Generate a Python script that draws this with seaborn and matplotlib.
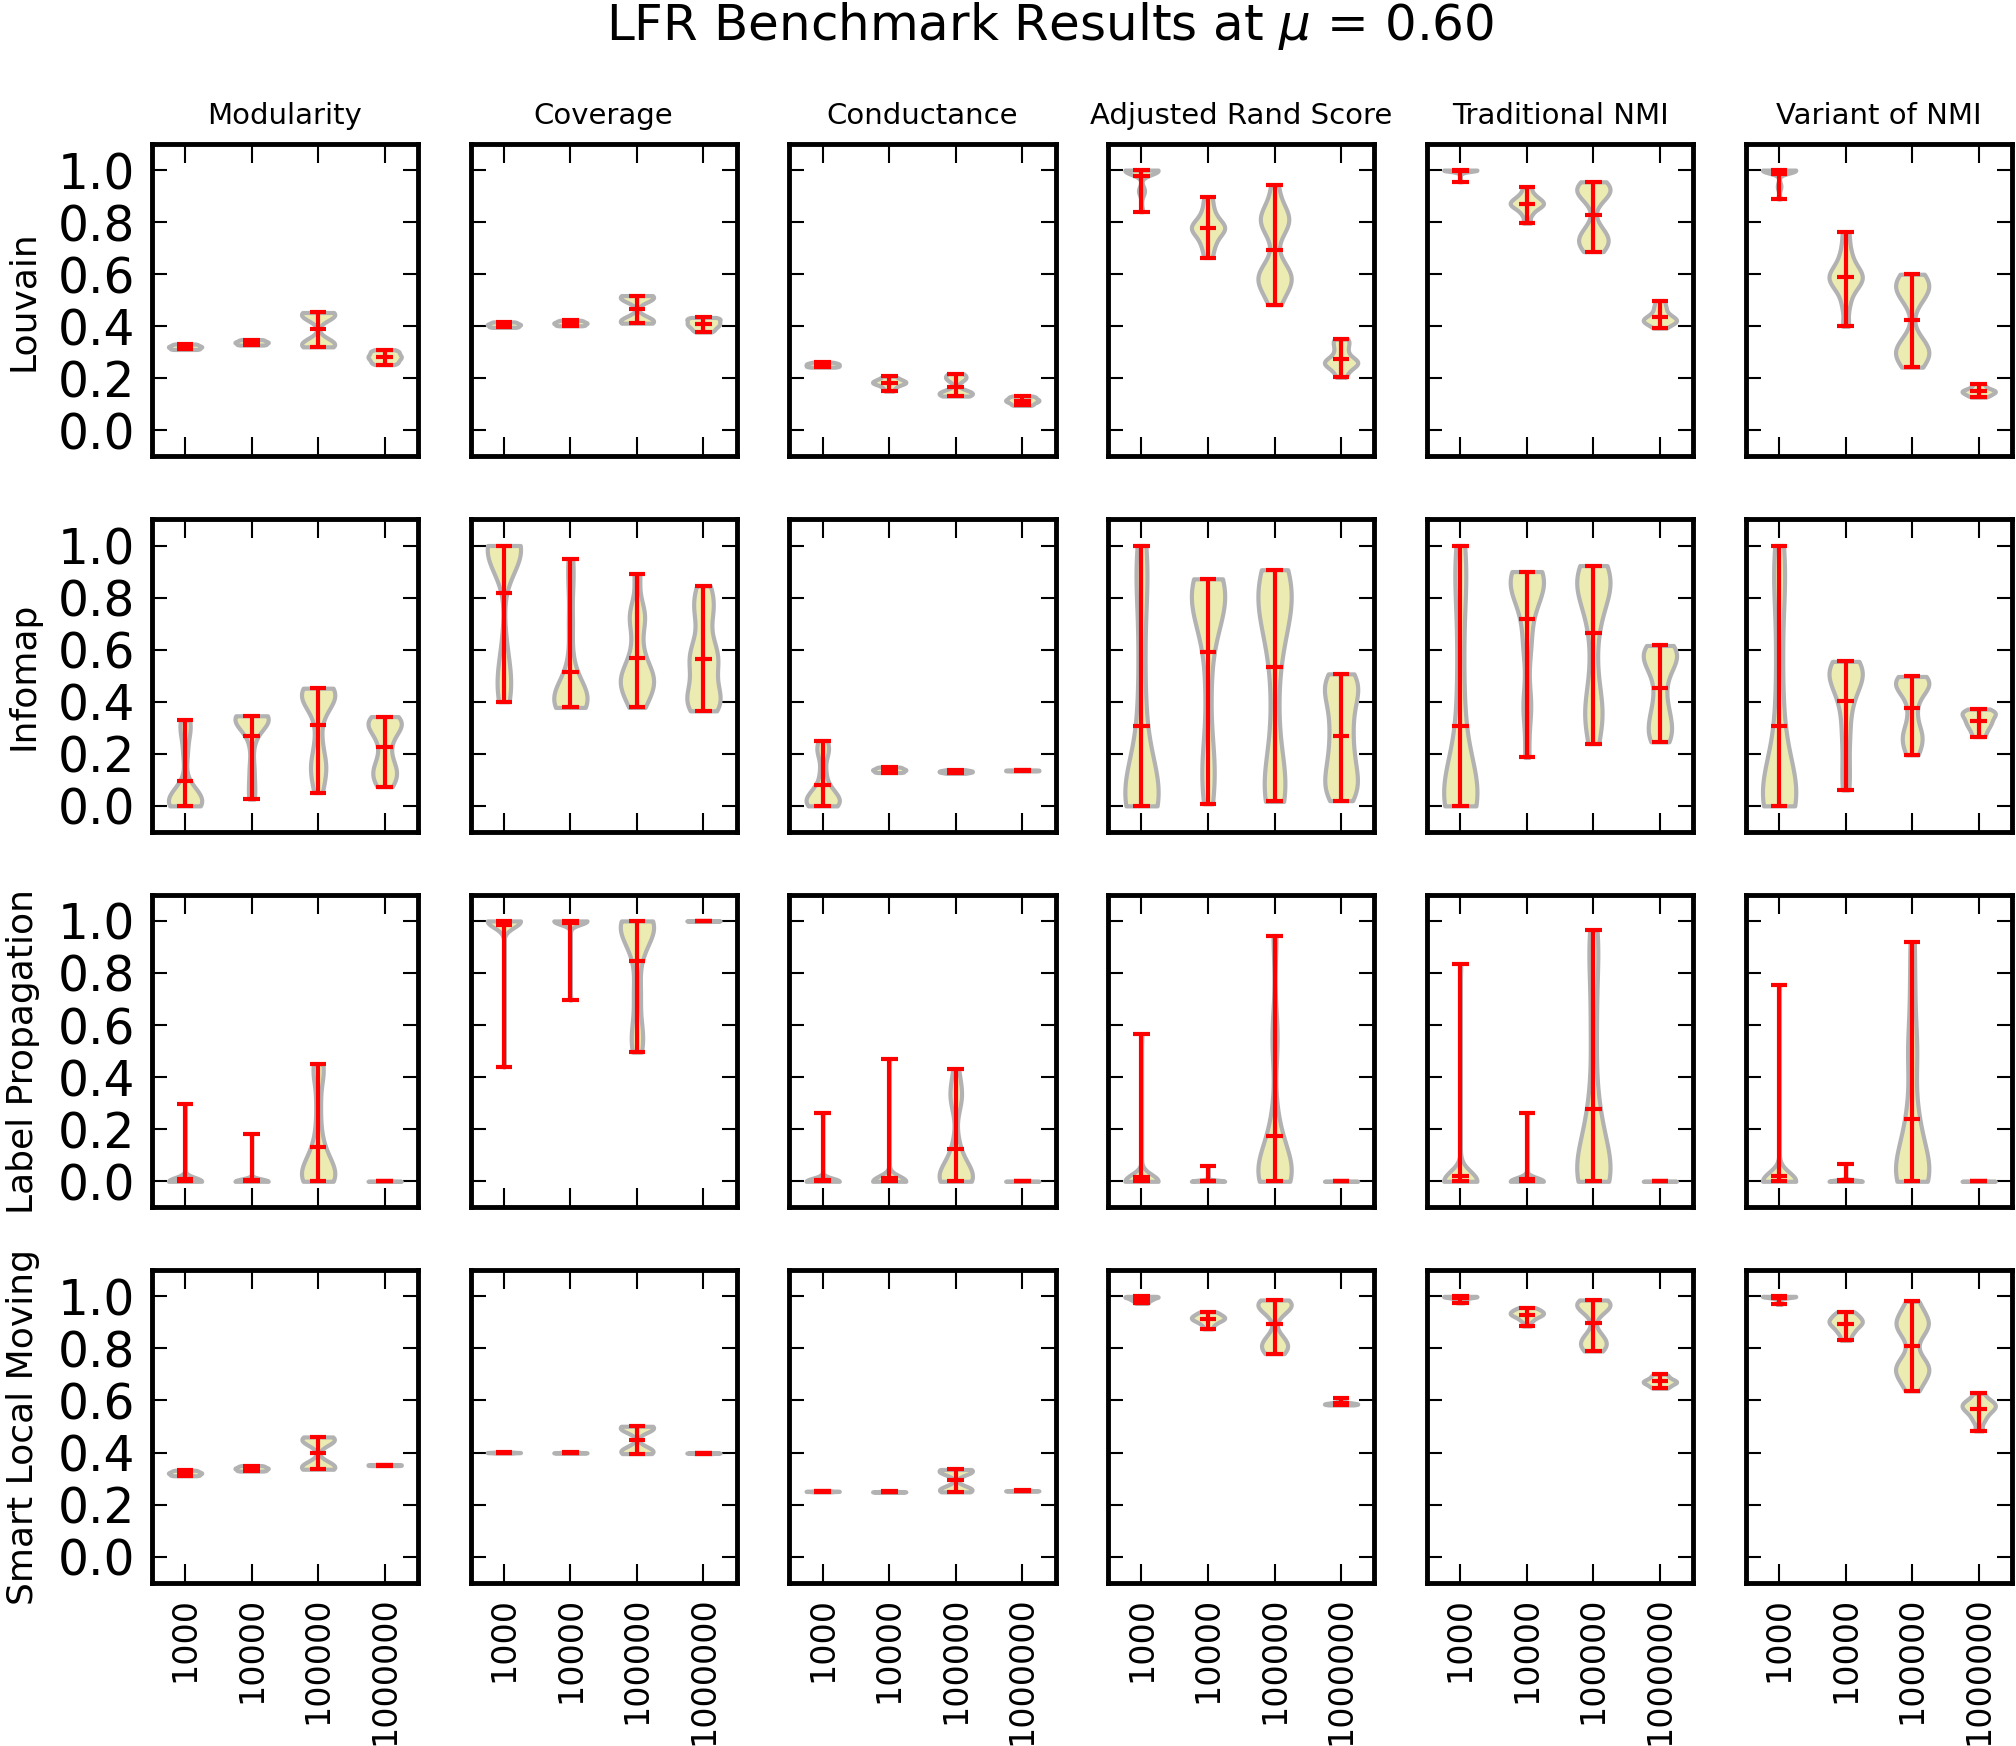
import numpy as np
import pandas as pd
import matplotlib
matplotlib.use("Agg")
import matplotlib.pyplot as plt
import seaborn as sns

# Eixos e rótulos
sizes = ["1000", "10000", "100000", "1000000"]
metrics = ["Modularity", "Coverage", "Conductance", "Adjusted Rand Score",
           "Traditional NMI", "Variant of NMI"]
algorithms = ["Louvain", "Infomap", "Label Propagation", "Smart Local Moving"]
y_ticks = [0.0, 0.2, 0.4, 0.6, 0.8, 1.0]

# Amostras (uma lista por tamanho de rede)
louvain_modularity = [
    [0.311, 0.314, 0.318, 0.321, 0.324, 0.328, 0.332],
    [0.328, 0.331, 0.335, 0.338, 0.341, 0.345, 0.349],
    [0.321, 0.323, 0.326, 0.329, 0.333, 0.338, 0.346, 0.43, 0.438, 0.443, 0.447, 0.45, 0.452, 0.453],
    [0.253, 0.258, 0.264, 0.27, 0.275, 0.28, 0.284, 0.289, 0.294, 0.3, 0.305, 0.31],
]
louvain_coverage = [
    [0.396, 0.399, 0.403, 0.406, 0.409, 0.413, 0.417],
    [0.402, 0.405, 0.409, 0.412, 0.415, 0.419, 0.423],
    [0.412, 0.414, 0.417, 0.42, 0.424, 0.43, 0.5, 0.507, 0.511, 0.514, 0.516, 0.518],
    [0.378, 0.385, 0.392, 0.398, 0.403, 0.408, 0.412, 0.417, 0.422, 0.427, 0.431, 0.434],
]
louvain_conductance = [
    [0.243, 0.246, 0.249, 0.252, 0.255, 0.258, 0.262],
    [0.151, 0.163, 0.172, 0.177, 0.181, 0.184, 0.187, 0.19, 0.195, 0.2, 0.208],
    [0.132, 0.135, 0.138, 0.141, 0.144, 0.148, 0.153, 0.19, 0.198, 0.205, 0.212, 0.218],
    [0.096, 0.1, 0.105, 0.109, 0.112, 0.115, 0.118, 0.121, 0.125, 0.129, 0.132],
]
louvain_ars = [
    [0.84, 0.91, 0.92, 0.93, 0.985, 0.99, 0.995] + [1.0] * 12,
    [0.664, 0.7, 0.725, 0.745, 0.76, 0.77, 0.778, 0.786, 0.795, 0.81, 0.83, 0.86, 0.898],
    [0.483, 0.53, 0.56, 0.575, 0.585, 0.595, 0.61, 0.64, 0.76, 0.79, 0.805, 0.815, 0.83, 0.86, 0.943],
    [0.204, 0.228, 0.243, 0.252, 0.258, 0.264, 0.27, 0.28, 0.3, 0.32, 0.34, 0.351],
]
louvain_nmi = [
    [0.955, 0.99, 0.995] + [1.0] * 10,
    [0.796, 0.83, 0.85, 0.86, 0.866, 0.872, 0.878, 0.885, 0.895, 0.91, 0.936],
    [0.687, 0.705, 0.72, 0.73, 0.74, 0.755, 0.78, 0.885, 0.91, 0.92, 0.925, 0.93, 0.94, 0.955],
    [0.393, 0.405, 0.413, 0.418, 0.422, 0.427, 0.433, 0.44, 0.45, 0.465, 0.48, 0.499],
]
louvain_vnmi = [
    [0.889, 0.93, 0.945, 0.99, 0.995] + [1.0] * 13,
    [0.4, 0.48, 0.53, 0.555, 0.57, 0.58, 0.59, 0.6, 0.612, 0.63, 0.66, 0.7, 0.761],
    [0.243, 0.27, 0.29, 0.3, 0.31, 0.32, 0.34, 0.5, 0.53, 0.545, 0.555, 0.565, 0.58, 0.6],
    [0.128, 0.134, 0.139, 0.143, 0.147, 0.15, 0.153, 0.157, 0.162, 0.17, 0.18],
]

infomap_modularity = [
    [0.0, 0.0, 0.004, 0.008, 0.012, 0.018, 0.025, 0.035, 0.05, 0.07, 0.2, 0.28, 0.31, 0.33],
    [0.026, 0.08, 0.15, 0.25, 0.3, 0.32, 0.33, 0.335, 0.338, 0.34, 0.342, 0.344, 0.346],
    [0.051, 0.1, 0.14, 0.16, 0.19, 0.26, 0.35, 0.39, 0.41, 0.42, 0.43, 0.437, 0.443, 0.448, 0.452],
    [0.074, 0.1, 0.12, 0.14, 0.16, 0.2, 0.25, 0.28, 0.3, 0.315, 0.325, 0.335, 0.343],
]
infomap_coverage = [
    [0.4, 0.45, 0.48, 0.5, 0.6, 0.93, 0.96, 0.975, 0.985, 0.99, 0.995, 1.0, 1.0, 1.0, 1.0],
    [0.378, 0.382, 0.388, 0.395, 0.403, 0.412, 0.42, 0.43, 0.445, 0.47, 0.55, 0.7, 0.85, 0.949],
    [0.378, 0.41, 0.44, 0.46, 0.475, 0.49, 0.505, 0.525, 0.56, 0.62, 0.7, 0.73, 0.76, 0.891],
    [0.365, 0.38, 0.4, 0.41, 0.44, 0.48, 0.52, 0.56, 0.57, 0.6, 0.64, 0.72, 0.76, 0.8, 0.845],
]
infomap_conductance = [
    [0.0, 0.0, 0.005, 0.01, 0.02, 0.03, 0.04, 0.055, 0.075, 0.13, 0.2, 0.22, 0.251],
    [0.128, 0.131, 0.135, 0.138, 0.141, 0.145, 0.149],
    [0.125, 0.128, 0.13, 0.132, 0.134, 0.136, 0.139],
    [0.134, 0.135, 0.136, 0.137, 0.138],
]
infomap_ars = [
    [0.0, 0.0, 0.01, 0.02, 0.04, 0.06, 0.08, 0.15, 0.25, 0.4, 0.6, 0.8, 0.9, 1.0],
    [0.008, 0.1, 0.15, 0.25, 0.45, 0.62, 0.7, 0.74, 0.77, 0.8, 0.82, 0.84, 0.855, 0.865, 0.872],
    [0.017, 0.06, 0.09, 0.12, 0.3, 0.5, 0.65, 0.7, 0.75, 0.79, 0.83, 0.86, 0.885, 0.907],
    [0.02, 0.05, 0.08, 0.11, 0.15, 0.19, 0.24, 0.29, 0.34, 0.39, 0.43, 0.46, 0.485, 0.507],
]
infomap_nmi = [
    [0.0, 0.0, 0.01, 0.02, 0.04, 0.06, 0.08, 0.15, 0.25, 0.4, 0.6, 0.8, 0.9, 1.0],
    [0.186, 0.38, 0.39, 0.6, 0.65, 0.76, 0.8, 0.83, 0.85, 0.865, 0.875, 0.88, 0.885, 0.893, 0.9],
    [0.239, 0.33, 0.36, 0.39, 0.5, 0.65, 0.75, 0.8, 0.83, 0.855, 0.875, 0.89, 0.905, 0.923],
    [0.246, 0.26, 0.29, 0.32, 0.35, 0.39, 0.45, 0.51, 0.54, 0.56, 0.58, 0.595, 0.605, 0.616],
]
infomap_vnmi = [
    [0.0, 0.0, 0.01, 0.02, 0.04, 0.06, 0.08, 0.15, 0.25, 0.4, 0.6, 0.8, 0.9, 1.0],
    [0.061, 0.15, 0.25, 0.33, 0.4, 0.44, 0.47, 0.49, 0.505, 0.52, 0.535, 0.545, 0.555],
    [0.196, 0.23, 0.255, 0.275, 0.3, 0.36, 0.42, 0.45, 0.465, 0.475, 0.48, 0.485, 0.497],
    [0.266, 0.285, 0.3, 0.312, 0.322, 0.332, 0.342, 0.35, 0.357, 0.364, 0.372],
]

labelprop_modularity = [
    [0.0] * 36 + [0.01, 0.298],
    [0.0] * 36 + [0.183],
    [0.0, 0.0, 0.0, 0.005, 0.01, 0.02, 0.03, 0.045, 0.06, 0.08, 0.1, 0.13, 0.2, 0.3, 0.41, 0.43, 0.451],
    [0.0] * 8 + [0.001],
]
labelprop_coverage = [
    [1.0] * 40 + [0.98, 0.439],
    [1.0] * 40 + [0.696],
    [1.0, 1.0, 1.0, 1.0, 0.995, 0.99, 0.98, 0.965, 0.95, 0.93, 0.9, 0.86, 0.75, 0.7, 0.6, 0.56, 0.53, 0.496],
    [1.0] * 8 + [0.999],
]
labelprop_conductance = [
    [0.0] * 40 + [0.261],
    [0.0] * 40 + [0.005, 0.01, 0.471],
    [0.0, 0.0, 0.0, 0.0, 0.005, 0.01, 0.015, 0.025, 0.035, 0.05, 0.07, 0.1, 0.15, 0.29, 0.32, 0.34, 0.37, 0.43],
    [0.0] * 8 + [0.001],
]
labelprop_ars = [
    [0.0] * 36 + [0.005, 0.01, 0.02, 0.566],
    [0.0] * 20 + [0.002, 0.059],
    [0.0, 0.0, 0.0, 0.005, 0.01, 0.02, 0.03, 0.045, 0.06, 0.08, 0.1, 0.13, 0.17, 0.25, 0.5, 0.6, 0.944],
    [0.0] * 8 + [0.001],
]
labelprop_nmi = [
    [0.0] * 36 + [0.005, 0.01, 0.02, 0.03, 0.835],
    [0.0] * 30 + [0.002, 0.263],
    [0.0, 0.0, 0.0, 0.005, 0.015, 0.03, 0.05, 0.07, 0.1, 0.14, 0.19, 0.25, 0.32, 0.5, 0.65, 0.8, 0.9, 0.964],
    [0.0] * 8 + [0.001],
]
labelprop_vnmi = [
    [0.0] * 36 + [0.005, 0.01, 0.02, 0.03, 0.752],
    [0.0] * 20 + [0.002, 0.068],
    [0.0, 0.0, 0.0, 0.005, 0.015, 0.03, 0.05, 0.07, 0.1, 0.14, 0.18, 0.23, 0.3, 0.45, 0.5, 0.6, 0.75, 0.918],
    [0.0] * 8 + [0.001],
]

slm_modularity = [
    [0.311, 0.314, 0.318, 0.321, 0.324, 0.328, 0.332],
    [0.329, 0.332, 0.336, 0.339, 0.342, 0.346, 0.35],
    [0.336, 0.338, 0.341, 0.345, 0.35, 0.357, 0.435, 0.443, 0.449, 0.454, 0.457, 0.46],
    [0.35, 0.351, 0.352, 0.353, 0.354],
]
slm_coverage = [
    [0.398, 0.399, 0.4, 0.4, 0.401, 0.402],
    [0.397, 0.398, 0.399, 0.399, 0.4, 0.401],
    [0.396, 0.398, 0.401, 0.405, 0.41, 0.417, 0.485, 0.491, 0.495, 0.498, 0.5, 0.501],
    [0.396, 0.397, 0.398, 0.398, 0.399, 0.4],
]
slm_conductance = [
    [0.249, 0.25, 0.251, 0.251, 0.252, 0.253],
    [0.247, 0.248, 0.249, 0.249, 0.25, 0.251],
    [0.249, 0.251, 0.254, 0.257, 0.261, 0.267, 0.32, 0.325, 0.329, 0.332, 0.334, 0.335],
    [0.251, 0.252, 0.253, 0.253, 0.254, 0.255],
]
slm_ars = [
    [0.973, 0.978, 0.983, 0.987, 0.99, 0.993, 0.996, 0.998, 1.0, 1.0],
    [0.875, 0.89, 0.9, 0.906, 0.911, 0.915, 0.919, 0.923, 0.928, 0.934, 0.941],
    [0.78, 0.79, 0.8, 0.81, 0.82, 0.83, 0.85, 0.93, 0.95, 0.96, 0.97, 0.97, 0.975, 0.98, 0.986],
    [0.583, 0.584, 0.585, 0.586, 0.587, 0.588, 0.59, 0.593, 0.6, 0.611],
]
slm_nmi = [
    [0.975, 0.985, 0.99, 0.994, 0.997, 0.999, 1.0, 1.0, 1.0],
    [0.886, 0.905, 0.916, 0.923, 0.928, 0.932, 0.936, 0.94, 0.945, 0.95, 0.957],
    [0.79, 0.8, 0.81, 0.82, 0.83, 0.84, 0.86, 0.93, 0.95, 0.96, 0.97, 0.97, 0.975, 0.98, 0.986],
    [0.647, 0.654, 0.66, 0.665, 0.669, 0.672, 0.676, 0.68, 0.686, 0.693, 0.701],
]
slm_vnmi = [
    [0.969, 0.99, 0.995, 0.998, 1.0, 1.0, 1.0, 1.0, 1.0, 1.0],
    [0.831, 0.855, 0.87, 0.882, 0.891, 0.898, 0.905, 0.912, 0.92, 0.93, 0.941],
    [0.637, 0.67, 0.695, 0.71, 0.72, 0.73, 0.745, 0.77, 0.84, 0.87, 0.885, 0.895, 0.905, 0.92, 0.95, 0.981],
    [0.483, 0.52, 0.54, 0.555, 0.565, 0.573, 0.58, 0.587, 0.595, 0.605, 0.628],
]

results = {
    "Louvain": [louvain_modularity, louvain_coverage, louvain_conductance,
                louvain_ars, louvain_nmi, louvain_vnmi],
    "Infomap": [infomap_modularity, infomap_coverage, infomap_conductance,
                infomap_ars, infomap_nmi, infomap_vnmi],
    "Label Propagation": [labelprop_modularity, labelprop_coverage, labelprop_conductance,
                          labelprop_ars, labelprop_nmi, labelprop_vnmi],
    "Smart Local Moving": [slm_modularity, slm_coverage, slm_conductance,
                           slm_ars, slm_nmi, slm_vnmi],
}

fill_color = "#ececb2"
edge_color = "#b2b2b2"
bar_color = "#ff0000"

sns.set_style("ticks")
plt.rcParams["font.family"] = ["DejaVu Sans"]
plt.rcParams.update({"text.color": "black", "axes.labelcolor": "black",
                     "xtick.color": "black", "ytick.color": "black"})

fig, axes = plt.subplots(4, 6, figsize=(20.16, 17.46), dpi=100)
fig.subplots_adjust(left=0.0753, right=0.998, top=0.9175, bottom=0.0935,
                    wspace=0.198, hspace=0.2016)

for i, algo in enumerate(algorithms):
    for j, metric in enumerate(metrics):
        ax = axes[i, j]
        samples = results[algo][j]
        df = pd.DataFrame({
            "size": np.repeat(sizes, [len(s) for s in samples]),
            "value": np.concatenate(samples),
        })
        sns.violinplot(data=df, x="size", y="value", order=sizes, ax=ax,
                       cut=0, inner=None, density_norm="width", width=0.5,
                       bw_adjust=0.6, color=fill_color, linecolor=edge_color,
                       linewidth=3, saturation=1)

        # mínimo, máximo e média em vermelho
        pos = np.arange(len(sizes))
        lows = np.array([np.min(s) for s in samples])
        highs = np.array([np.max(s) for s in samples])
        means = np.array([np.mean(s) for s in samples])
        ax.vlines(pos, lows, highs, color=bar_color, lw=3, zorder=5)
        for vals in (lows, highs, means):
            ax.hlines(vals, pos - 0.125, pos + 0.125, color=bar_color, lw=3, zorder=5)

        ax.set_xlim(-0.5, 3.5)
        ax.set_ylim(-0.1, 1.1)
        ax.set_yticks(y_ticks)
        ax.set_xlabel("")
        ax.set_ylabel("")

        for sp in ax.spines.values():
            sp.set_visible(True)
            sp.set_color("black")
            sp.set_linewidth(3.5)

        ax.tick_params(axis="x", direction="in", length=14, width=1.5, color="black",
                       labelcolor="black", top=True, bottom=True, labelsize=24, pad=10,
                       labelrotation=90, labelbottom=(i == len(algorithms) - 1))
        ax.tick_params(axis="y", direction="in", length=11, width=1.5, color="black",
                       labelcolor="black", left=True, right=True, labelsize=35, pad=12,
                       labelleft=(j == 0))

        if i == 0:
            ax.set_title(metric, fontsize=21, pad=14.5, color="black")
        if j == 0:
            ax.set_ylabel(algo, fontsize=26, color="black")
            ax.yaxis.set_label_coords(-0.42, 0.5)

fig.text(0.521, 0.985, "LFR Benchmark Results at $\\mu$ = 0.60",
         ha="center", va="center", fontsize=36, color="black")

fig.savefig("out.png", dpi=100)
